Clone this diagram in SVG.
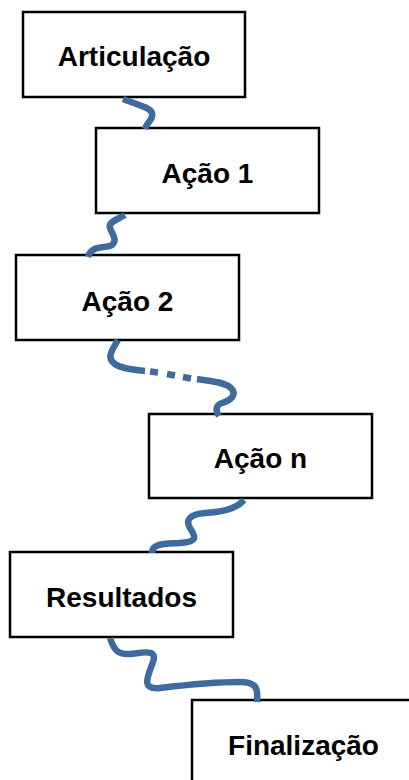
<svg xmlns="http://www.w3.org/2000/svg" width="409" height="780" viewBox="0 0 409 780">
<style>
.box{fill:#fff;stroke:#000;stroke-width:2.5}
.lbl{font-family:"Liberation Sans",Arial,sans-serif;font-weight:bold;font-size:28px;fill:#000;text-anchor:middle}
.wave{fill:none;stroke:#3E6B9E;stroke-width:6.5;stroke-linecap:butt;stroke-linejoin:round}
</style>
<rect width="409" height="780" fill="#fff"/>
<g id="node-articulacao"><rect class="box" x="23" y="12" width="222" height="85"/><text class="lbl" x="134" y="66">Articulação</text></g>
<g id="node-acao1"><rect class="box" x="96" y="128" width="223" height="85"/><text class="lbl" x="207.5" y="183">Ação 1</text></g>
<g id="node-acao2"><rect class="box" x="16" y="255" width="223" height="85"/><text class="lbl" x="127.5" y="311">Ação 2</text></g>
<g id="node-acaon"><rect class="box" x="149" y="414" width="223" height="84"/><text class="lbl" x="260.5" y="468">Ação n</text></g>
<g id="node-resultados"><rect class="box" x="10" y="552" width="223" height="85"/><text class="lbl" x="121.5" y="607">Resultados</text></g>
<g id="node-finalizacao"><rect class="box" x="192" y="700" width="223" height="85"/><text class="lbl" x="303.5" y="755">Finalização</text></g>
<g id="connectors">
<path class="wave" d="M123,99 C135,104 150,107 152,113 C154,119 147,122 145,129"/>
<path class="wave" d="M125,215 C118,219 108,222 110,228 C112,234 118,240 112,245 C106,249 92,244 88,257"/>
<path class="wave" d="M118,340 C112,350 106,358 115,364 C122,369 135,370 145,371"/>
<path class="wave" d="M150,371.5 L158,372.5 M167,374 L175,375.5 M183,377 L191,378.5"/>
<path class="wave" d="M197,379 C210,381 225,382 231,388 C237,394 232,400 222,403 C216,405 215,410 219,416"/>
<path class="wave" d="M244,500 C235,510 220,512 205,513 C190,514 185,520 190,528 C196,537 198,542 180,543 C165,544 152,543 152,553"/>
<path class="wave" d="M110,638 C114,650 118,655 130,654 C142,653 158,648 153,662 C148,676 140,690 160,688 C185,685 220,682 240,682 C258,682 258,690 257,702"/>
</g>
</svg>
